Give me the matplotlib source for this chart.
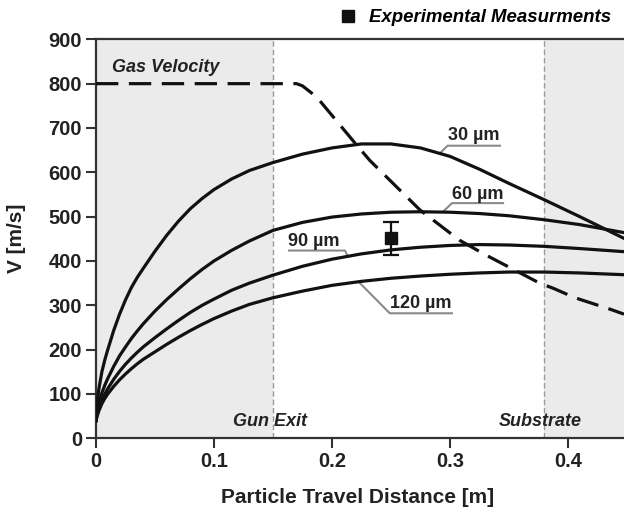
import matplotlib
matplotlib.use("Agg")
import matplotlib.pyplot as plt
from matplotlib.lines import Line2D

plt.rcParams['font.family'] = ['Liberation Sans', 'DejaVu Sans']
plt.rcParams['font.weight'] = 'bold'

# particle velocity curves
dist = [0, 0.001, 0.0025, 0.005, 0.0075, 0.01, 0.015, 0.02, 0.025, 0.03, 0.035, 0.04,
        0.05, 0.06, 0.07, 0.08, 0.09, 0.1, 0.115, 0.13, 0.15, 0.175, 0.2, 0.225,
        0.25, 0.275, 0.3, 0.325, 0.35, 0.38, 0.41, 0.4475]
v30 = [40, 80, 112, 150, 177, 200, 243, 280, 312, 340, 363, 383,
       422, 458, 490, 518, 541, 561, 585, 604, 622, 641, 655, 664,
       664, 655, 636, 607, 575, 538, 500, 451]
v60 = [40, 62, 80, 102, 120, 135, 162, 186, 206, 225, 242, 258,
       287, 313, 337, 360, 381, 400, 424, 445, 469, 487, 499, 506,
       510, 511, 510, 507, 502, 493, 482, 464]
v90 = [40, 55, 70, 86, 100, 112, 133, 151, 167, 181, 194, 206,
       227, 247, 266, 284, 300, 314, 334, 350, 368, 388, 404, 416,
       425, 431, 435, 437, 436, 433, 428, 421]
v120 = [40, 50, 62, 78, 90, 100, 117, 132, 145, 157, 168, 178,
        195, 212, 228, 243, 257, 270, 287, 302, 317, 332, 345, 354,
        361, 366, 370, 373, 375, 375, 373, 369]

# gas velocity (dashed)
gas_x = [0, 0.17, 0.175, 0.187, 0.2195, 0.232, 0.2746, 0.308, 0.33, 0.376, 0.387, 0.406, 0.437, 0.4475]
gas_v = [800, 800, 795, 770, 666, 627, 515, 447, 414, 350, 339, 317, 290, 280]

# experimental point
exp_x = [0.25]
exp_v = [451]
exp_err = [38]

gun_exit = 0.15
substrate = 0.38
xmax = 0.4475

fig = plt.figure(figsize=(6.24, 5.14), dpi=100)
ax = fig.add_axes([0.1538, 0.1473, 1 - 0.1538, 0.7762])

ax.axvspan(0, gun_exit, color='#ebebeb', lw=0, zorder=0)
ax.axvspan(substrate, xmax, color='#ebebeb', lw=0, zorder=0)
ax.axvline(gun_exit, color='#9a9a9a', lw=1, ls=(0, (4, 2)), zorder=1)
ax.axvline(substrate, color='#9a9a9a', lw=1, ls=(0, (4, 2)), zorder=1)

for v in [v30, v60, v90, v120]:
    ax.plot(dist, v, color='#111111', lw=2.3, zorder=3, solid_joinstyle='round')
ax.plot(gas_x, gas_v, color='#111111', lw=2.3, ls=(0, (7, 3.3)), zorder=3)

ax.errorbar(exp_x, exp_v, yerr=exp_err, fmt='none', ecolor='#111111',
            elinewidth=1.6, capsize=6, capthick=1.6, zorder=4)
ax.plot(exp_x, exp_v, 's', color='#111111', ms=8.5, zorder=5)

# labels with leader lines
lead = dict(color='#8a8a8a', lw=1.5, zorder=2)
tfont = dict(fontsize=13, fontweight='bold', color='#222222', va='center', ha='left')
ax.text(0.298, 683, '30 µm', **tfont)
ax.plot([0.2915, 0.298, 0.3424], [643, 660, 660], **lead)
ax.text(0.3017, 550, '60 µm', **tfont)
ax.plot([0.2943, 0.3017, 0.345], [511.5, 530.5, 530.5], **lead)
ax.text(0.1627, 445, '90 µm', **tfont)
ax.plot([0.2136, 0.211, 0.1636], [410, 423.5, 423.5], **lead)
ax.text(0.249, 304, '120 µm', **tfont)
ax.plot([0.2237, 0.249, 0.3017], [350, 282, 282], **lead)

ifont = dict(fontsize=13, fontweight='bold', style='italic', color='#222222', va='center', ha='left')
ax.text(0.0136, 837, 'Gas Velocity', **ifont)
ax.text(0.116, 38, 'Gun Exit', **ifont)
ax.text(0.3415, 38, 'Substrate', **ifont)

h = Line2D([], [], marker='s', color='#111111', ls='none', ms=8)
ax.legend([h], ['Experimental Measurments'], loc='lower right', bbox_to_anchor=(1.0, 1.0),
          frameon=False, handlelength=1.0, handletextpad=0.6, borderpad=0.2,
          prop=dict(size=13.4, weight='bold', style='italic'))

ax.set_xlim(0, xmax)
ax.set_ylim(0, 900)
ax.set_xticks([0, 0.1, 0.2, 0.3, 0.4])
ax.set_xticklabels(['0', '0.1', '0.2', '0.3', '0.4'])
ax.set_yticks(range(0, 901, 100))
ax.tick_params(direction='out', length=7, width=1.5, color='#333333',
               labelsize=14.5, labelcolor='#222222', pad=3)
for lab in ax.get_xticklabels() + ax.get_yticklabels():
    lab.set_fontweight('bold')
for s in ['left', 'bottom', 'top']:
    ax.spines[s].set_linewidth(1.6)
    ax.spines[s].set_color('#333333')
ax.spines['right'].set_visible(False)

ax.set_xlabel('Particle Travel Distance [m]', fontsize=15, fontweight='bold', color='#222222')
ax.set_ylabel('V [m/s]', fontsize=15, fontweight='bold', color='#222222')
ax.xaxis.set_label_coords(0.495, -0.125)
ax.yaxis.set_label_coords(-0.133, 0.5)

fig.savefig('out.png', dpi=100)
